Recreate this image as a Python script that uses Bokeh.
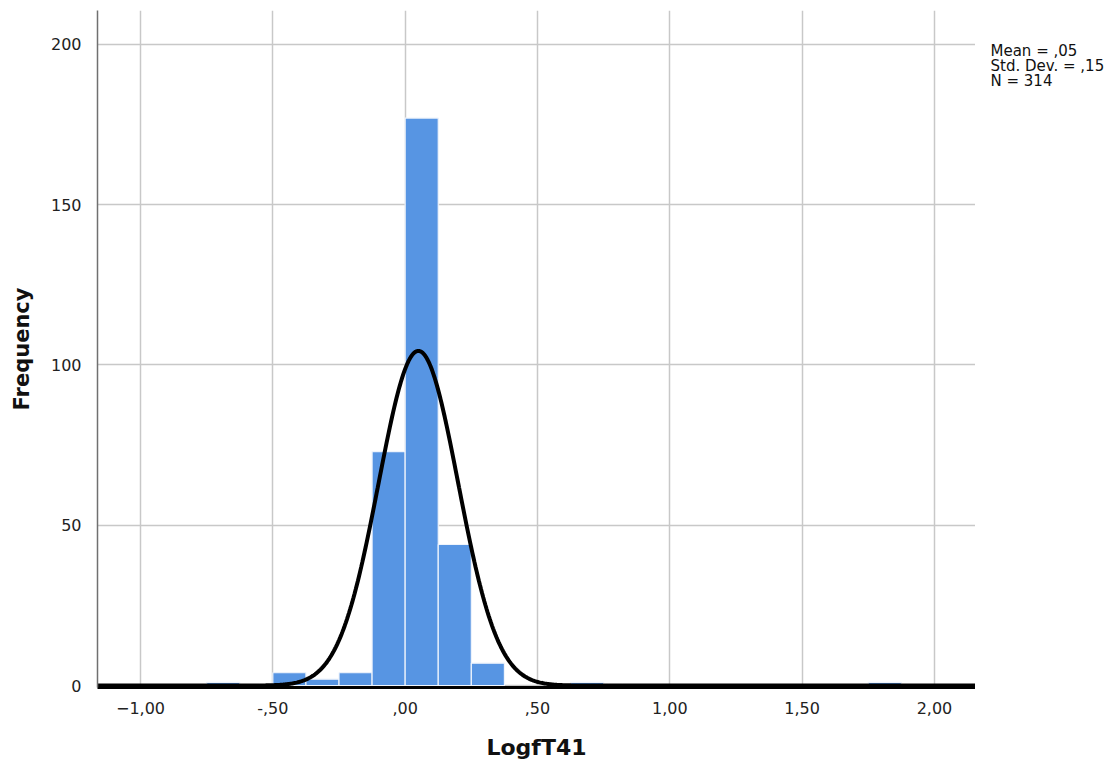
import numpy as np
from bokeh.plotting import figure
from bokeh.models import FixedTicker, Range1d
from bokeh.layouts import row
from bokeh.core.properties import value
from bokeh.embed import file_html
from bokeh.resources import INLINE

# Histogram of LogfT41 (bin width 0.125)
bin_left = [-0.750, -0.500, -0.375, -0.250, -0.125, 0.000, 0.125, 0.250, 0.625, 1.750]
counts = [1, 4, 2, 4, 73, 177, 44, 7, 1, 1]
bin_width = 0.125

mean_val = 0.05
std_val = 0.15
n_obs = 314
stats_lines = ["Mean = ,05", "Std. Dev. = ,15", "N = 314"]

x_ticks = [-1.0, -0.5, 0.0, 0.5, 1.0, 1.5, 2.0]
x_tick_labels = ["\u22121,00", "-,50", ",00", ",50", "1,00", "1,50", "2,00"]
y_ticks = [0, 50, 100, 150, 200]

FONT = "DejaVu Sans"

p = figure(width=975, height=765, frame_width=878, frame_height=677,
           min_border_left=97, min_border_right=0, min_border_top=10, min_border_bottom=78,
           output_backend="svg", toolbar_location=None,
           x_range=Range1d(-1.1625, 2.155), y_range=Range1d(-0.6, 210.57))
p.outline_line_color = None
p.background_fill_color = "white"

lefts = np.array(bin_left)
p.quad(left=lefts, right=lefts + bin_width, bottom=0, top=counts,
       fill_color="#5795e3", line_color="#eef4fc", line_width=1.2)

# Fitted normal curve scaled to the histogram
xs = np.linspace(-1.1625, 2.155, 800)
ys = n_obs * bin_width / (std_val * np.sqrt(2 * np.pi)) * np.exp(-0.5 * ((xs - mean_val) / std_val) ** 2)
p.line(xs, ys, line_color="black", line_width=4)

p.xaxis.ticker = FixedTicker(ticks=x_ticks)
p.xaxis.major_label_overrides = {t: l for t, l in zip(x_ticks, x_tick_labels)}
p.yaxis.ticker = FixedTicker(ticks=y_ticks)

for ax in (p.xaxis[0], p.yaxis[0]):
    ax.major_tick_line_color = None
    ax.minor_tick_line_color = None
    ax.major_label_text_font = FONT
    ax.major_label_text_font_size = "16px"
    ax.major_label_text_color = "#222222"
    ax.axis_label_text_font = FONT
    ax.axis_label_text_font_style = "bold"
    ax.axis_label_text_color = "#111111"

p.xaxis.axis_label = "LogfT41"
p.xaxis.axis_label_text_font_size = "22px"
p.xaxis.axis_line_color = "black"
p.xaxis.axis_line_width = 3
p.xaxis.major_label_standoff = 8
p.xaxis.axis_label_standoff = 18
p.yaxis.axis_label = "Frequency"
p.yaxis.axis_label_text_font_size = "21px"
p.yaxis.axis_line_color = "#707070"
p.yaxis.axis_line_width = 1.5
p.yaxis.major_label_standoff = 10
p.yaxis.axis_label_standoff = 14

p.xgrid.ticker = FixedTicker(ticks=x_ticks)
p.ygrid.ticker = FixedTicker(ticks=y_ticks)
p.grid.grid_line_color = "#c8c8c8"
p.grid.grid_line_width = 1.5

# Side panel holding the summary statistics (pixel coordinates, y grows downward)
side = figure(width=143, height=765, min_border=0, output_backend="svg", toolbar_location=None,
              x_range=Range1d(0, 143), y_range=Range1d(765, 0))
side.axis.visible = False
side.grid.visible = False
side.outline_line_color = None
side.text(x=[15, 15, 15], y=[46, 63, 80], text=stats_lines,
          text_font=value(FONT), text_font_size="15px", text_color="#111111",
          text_baseline="alphabetic", text_align="left")

open("out.html", "w").write(file_html(row(p, side), INLINE))
